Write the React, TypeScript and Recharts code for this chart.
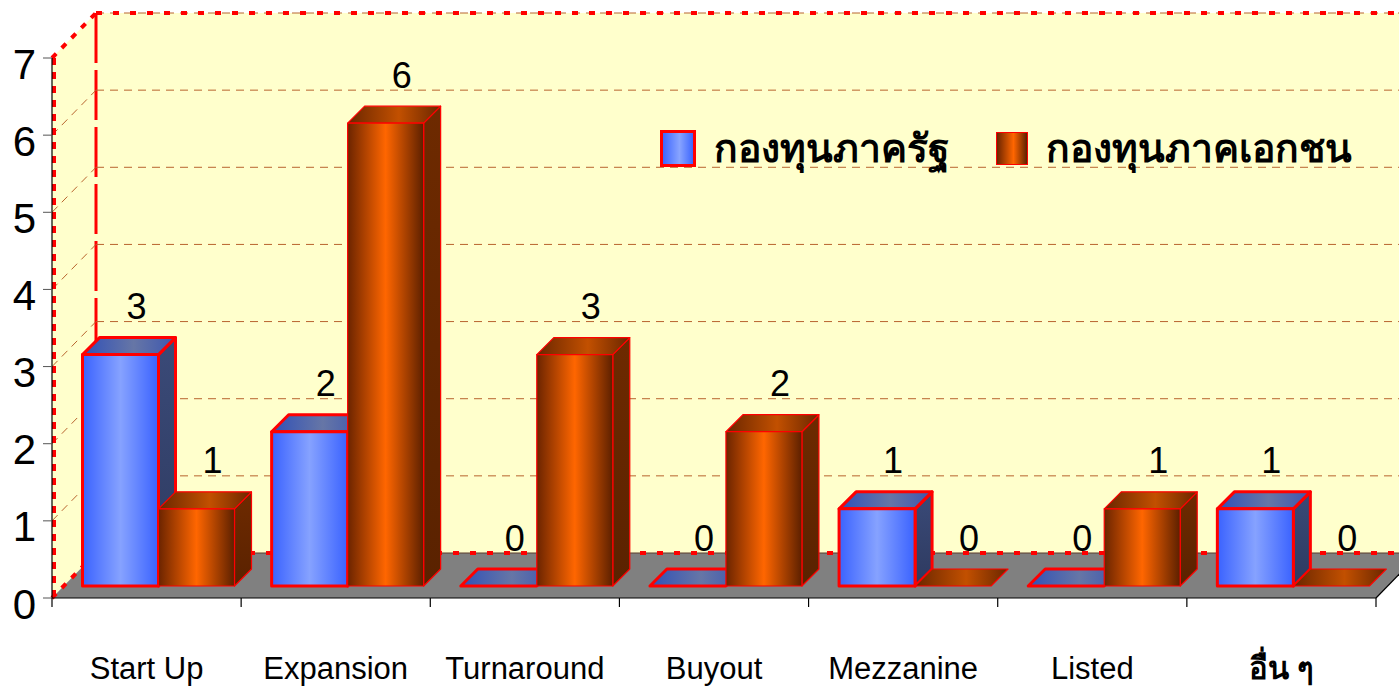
import {
  BarChart,
  Bar,
  XAxis,
  YAxis,
  ReferenceArea,
  LabelList,
  Legend,
} from 'recharts';

const categories = ['Start Up', 'Expansion', 'Turnaround', 'Buyout', 'Mezzanine', 'Listed', 'อื่น ๆ'];
const publicFunds = [3, 2, 0, 0, 1, 0, 1];
const privateFunds = [1, 6, 3, 2, 0, 1, 0];
const yTicks = [0, 1, 2, 3, 4, 5, 6, 7];
const gridLevels = [1, 2, 3, 4, 5, 6];
const seriesNames = ['กองทุนภาครัฐ', 'กองทุนภาคเอกชน'];

const chartData = categories.map((name, i) => ({
  name,
  pub: publicFunds[i],
  priv: privateFunds[i],
}));

const FONT = "'Liberation Sans', Arial, sans-serif";
const WALL_DX = 44;
const WALL_DY = -45;
const BAR_DX = 12;
const BAR_DY = -12;
const BAR_DEPTH = 17;
const RED = '#FF0000';
const GRID = '#B8642E';

// back wall, left wall and floor, built from the plot rectangle
const Walls = (props: any) => {
  const { x, y, width, height } = props;
  const bottom = y + height;
  const right = x + width;
  const bx = x + WALL_DX;
  const top = y + WALL_DY;
  const back = bottom + WALL_DY;
  const far = right + WALL_DX;
  return (
    <g>
      <polygon points={`${x},${bottom} ${x},${y} ${bx},${top} ${bx},${back}`} fill="#FFFFCC" />
      <rect x={bx} y={top} width={far - bx} height={back - top} fill="#FFFFCC" />
      <polygon points={`${x},${bottom} ${bx},${back} ${far},${back} ${right},${bottom}`} fill="#808080" />
      <line x1={right} y1={bottom} x2={far} y2={back} stroke="#000" strokeWidth={1.2} />
      <line x1={bx} y1={top} x2={far} y2={top} stroke={GRID} strokeWidth={1} strokeDasharray="8 6" />
      <line x1={bx} y1={back} x2={far} y2={back} stroke="#5A3A2A" strokeWidth={1} />
      <line x1={bx} y1={top} x2={far} y2={top} stroke={RED} strokeWidth={4} strokeDasharray="6 11" />
      <line x1={bx} y1={back} x2={far} y2={back} stroke={RED} strokeWidth={4} strokeDasharray="6 11" />
      <line x1={bx} y1={top} x2={bx} y2={back} stroke={RED} strokeWidth={3} strokeDasharray="50 7" />
      <line x1={x} y1={y} x2={bx} y2={top} stroke={RED} strokeWidth={4} strokeDasharray="6 8" />
      <line x1={x} y1={bottom} x2={bx} y2={back} stroke={RED} strokeWidth={4} strokeDasharray="6 8" />
    </g>
  );
};

// dashed gridline on left wall and back wall at the top edge of the area
const GridLevel = (props: any) => {
  const { x, y, width } = props;
  return (
    <g stroke={GRID} strokeWidth={1} strokeDasharray="8 6" fill="none">
      <line x1={x} y1={y} x2={x + WALL_DX} y2={y + WALL_DY} />
      <line x1={x + WALL_DX} y1={y + WALL_DY} x2={x + width + WALL_DX} y2={y + WALL_DY} />
    </g>
  );
};

// red dashed front edge of the left wall, drawn over the axis
const FrontEdge = (props: any) => {
  const { x, y, height } = props;
  return (
    <line x1={x + 2} y1={y} x2={x + 2} y2={y + height} stroke={RED} strokeWidth={4} strokeDasharray="7 7" />
  );
};

const Bar3D = (props: any) => {
  const { x, y, width, height, kind } = props;
  const X = x + BAR_DX;
  const Y = y + BAR_DY;
  const d = BAR_DEPTH;
  const h = Math.max(height || 0, 0);
  const sw = kind === 'pub' ? 3 : 1.2;
  return (
    <g stroke={RED} strokeWidth={sw} strokeLinejoin="round">
      {h > 0 && (
        <polygon
          points={`${X + width},${Y} ${X + width + d},${Y - d} ${X + width + d},${Y + h - d} ${X + width},${Y + h}`}
          fill={`url(#${kind}Side)`}
        />
      )}
      <polygon
        points={`${X},${Y} ${X + d},${Y - d} ${X + width + d},${Y - d} ${X + width},${Y}`}
        fill={`url(#${kind}Top)`}
      />
      {h > 0 && <rect x={X} y={Y} width={width} height={h} fill={`url(#${kind}Front)`} />}
    </g>
  );
};

const valueLabel = (p: any) => {
  const { x, y, width, value } = p;
  return (
    <text
      x={x + width / 2 + BAR_DX + 16}
      y={y + BAR_DY - 48}
      textAnchor="middle"
      dominantBaseline="central"
      fontSize={36}
      fontFamily={FONT}
      fill="#000"
    >
      {value}
    </text>
  );
};

const YTick = (p: any) => {
  const { x, y, payload } = p;
  return (
    <text x={x} y={y + 6} textAnchor="end" dominantBaseline="central" fontSize={42} fontFamily={FONT} fill="#000">
      {payload.value}
    </text>
  );
};

const XTick = (p: any) => {
  const { x, y, payload, index, width } = p;
  const half = payload.offset ?? width / (2 * categories.length);
  const thai = /[\u0E00-\u0E7F]/.test(String(payload.value));
  return (
    <g>
      <line x1={x - half} y1={y} x2={x - half} y2={y + 9} stroke="#000" strokeWidth={1.2} />
      {index === categories.length - 1 && (
        <line x1={x + half} y1={y} x2={x + half} y2={y + 9} stroke="#000" strokeWidth={1.2} />
      )}
      <text
        x={x}
        y={y + 70}
        textAnchor="middle"
        dominantBaseline="central"
        fontSize={31}
        fontWeight={thai ? 'bold' : 'normal'}
        fontFamily={FONT}
        fill="#000"
      >
        {payload.value}
      </text>
    </g>
  );
};

const swatches = [
  { background: 'linear-gradient(to right, #3D66FF, #88A4FF 55%, #3D66FF)', border: '3px solid #FF0000' },
  { background: 'linear-gradient(to right, #6B2400, #FF6600 55%, #5C2000)', border: '1px solid #FF0000' },
];

const LegendContent = () => (
  <div style={{ display: 'flex', alignItems: 'center', fontFamily: FONT }}>
    {seriesNames.map((name, i) => (
      <div key={name} style={{ display: 'flex', alignItems: 'center', marginRight: i === 0 ? 46 : 0 }}>
        <div style={{ width: 30, height: 31, boxSizing: 'content-box', ...swatches[i] }} />
        <span style={{ marginLeft: 18, fontSize: 39, fontWeight: 'bold', color: '#000' }}>{name}</span>
      </div>
    ))}
  </div>
);

export default function App() {
  return (
    <div style={{ position: 'absolute', left: 0, top: 0, width: 1399, height: 688, background: '#fff' }}>
      <BarChart
        width={1399}
        height={688}
        data={chartData}
        margin={{ top: 58, right: 23, left: 0, bottom: 0 }}
        barCategoryGap={18.5}
        barGap={0}
        style={{ fontFamily: FONT }}
      >
        <defs>
          <linearGradient id="pubFront" x1="0" y1="0" x2="1" y2="0">
            <stop offset="0%" stopColor="#3A62FF" />
            <stop offset="50%" stopColor="#86A2FF" />
            <stop offset="100%" stopColor="#3A62FF" />
          </linearGradient>
          <linearGradient id="pubTop" x1="0" y1="0" x2="1" y2="0">
            <stop offset="0%" stopColor="#3050B8" />
            <stop offset="55%" stopColor="#6676A6" />
            <stop offset="100%" stopColor="#3C56B0" />
          </linearGradient>
          <linearGradient id="pubSide" x1="0" y1="0" x2="0" y2="1">
            <stop offset="0%" stopColor="#3A4A78" />
            <stop offset="100%" stopColor="#2E3A60" />
          </linearGradient>
          <linearGradient id="privFront" x1="0" y1="0" x2="1" y2="0">
            <stop offset="0%" stopColor="#6B2400" />
            <stop offset="50%" stopColor="#FF6600" />
            <stop offset="100%" stopColor="#5C2000" />
          </linearGradient>
          <linearGradient id="privTop" x1="0" y1="0" x2="1" y2="0">
            <stop offset="0%" stopColor="#6A2600" />
            <stop offset="55%" stopColor="#C25000" />
            <stop offset="100%" stopColor="#6A2600" />
          </linearGradient>
          <linearGradient id="privSide" x1="0" y1="0" x2="0" y2="1">
            <stop offset="0%" stopColor="#6E2A00" />
            <stop offset="100%" stopColor="#5A2200" />
          </linearGradient>
        </defs>
        <ReferenceArea y1={0} y2={7} shape={<Walls />} ifOverflow="visible" />
        {gridLevels.map((v) => (
          <ReferenceArea key={v} y1={0} y2={v} shape={<GridLevel />} ifOverflow="visible" />
        ))}
        <ReferenceArea y1={0} y2={7} shape={<FrontEdge />} ifOverflow="visible" />
        <XAxis
          dataKey="name"
          height={90}
          axisLine={{ stroke: '#000', strokeWidth: 1.2 }}
          tickLine={false}
          tickSize={0}
          tickMargin={0}
          interval={0}
          tick={<XTick />}
        />
        <YAxis
          width={52}
          domain={[0, 7]}
          ticks={yTicks}
          interval={0}
          axisLine={{ stroke: '#000', strokeWidth: 1.2 }}
          tickLine={{ stroke: '#555' }}
          tickSize={9}
          tickMargin={7}
          tick={<YTick />}
        />
        <Legend
          layout="horizontal"
          verticalAlign="middle"
          align="center"
          wrapperStyle={{ left: 660, top: 117, width: 739 }}
          content={<LegendContent />}
        />
        <Bar dataKey="pub" name={seriesNames[0]} isAnimationActive={false} shape={(p: any) => <Bar3D {...p} kind="pub" />}>
          <LabelList dataKey="pub" content={valueLabel} />
        </Bar>
        <Bar dataKey="priv" name={seriesNames[1]} isAnimationActive={false} shape={(p: any) => <Bar3D {...p} kind="priv" />}>
          <LabelList dataKey="priv" content={valueLabel} />
        </Bar>
      </BarChart>
    </div>
  );
}
